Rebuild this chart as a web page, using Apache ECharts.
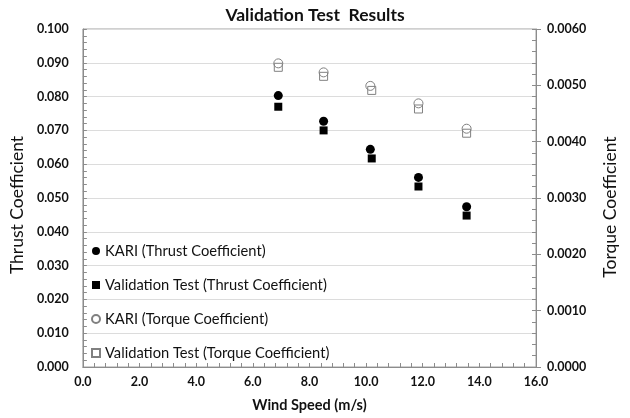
<!DOCTYPE html>
<html>
<head>
<meta charset="utf-8">
<script src="https://cdn.jsdelivr.net/npm/echarts@6/dist/echarts.min.js"></script>
<style>
  html, body { margin: 0; padding: 0; background: #fff; }
  #chart { width: 630px; height: 418px; }
</style>
</head>
<body>
<div id="chart"></div>
<script>
// Wind speeds (m/s) of the test points
const windKari = [6.9, 8.5, 10.15, 11.85, 13.55];
const windTest = [6.9, 8.5, 10.2, 11.85, 13.55];

// Thrust coefficient (left axis)
const thrustKari = [0.0803, 0.0727, 0.0644, 0.0561, 0.0474];
const thrustTest = [0.0770, 0.0700, 0.0617, 0.0534, 0.0448];

// Torque coefficient (right axis)
const torqueKari = [0.00539, 0.00523, 0.00499, 0.00468, 0.00423];
const torqueTest = [0.00532, 0.00516, 0.00491, 0.00458, 0.00415];

const seriesNames = [
  'KARI (Thrust Coefficient)',
  'Validation Test (Thrust Coefficient)',
  'KARI (Torque Coefficient)',
  'Validation Test (Torque Coefficient)'
];

const FONT = 'Lato';
const pair = (xs, ys) => xs.map((x, i) => [x, ys[i]]);

const chart = echarts.init(document.getElementById('chart'), null, { renderer: 'canvas' });

const axisGray = '#8c8c8c';
const tickLabel = { fontFamily: FONT, fontSize: 12.5, fontWeight: 'bold', color: '#111' };

chart.setOption({
  animation: false,
  backgroundColor: '#fff',
  textStyle: { fontFamily: FONT },
  title: {
    text: 'Validation Test  Results',
    left: 'center',
    top: 1,
    textStyle: { fontFamily: FONT, fontSize: 17.5, fontWeight: 'bold', color: '#111' }
  },
  grid: {
    left: 81, right: 94, top: 29, bottom: 49,
    show: true, borderColor: '#a0a0a0', borderWidth: 1
  },
  legend: {
    orient: 'vertical',
    left: 91,
    top: 234,
    padding: 0,
    itemGap: 0,
    itemWidth: 8,
    itemHeight: 8,
    data: seriesNames,
    textStyle: { fontFamily: FONT, fontSize: 14.7, color: '#111', lineHeight: 34 }
  },
  xAxis: {
    type: 'value',
    min: 0, max: 16, interval: 2,
    name: 'Wind Speed (m/s)',
    nameLocation: 'middle',
    nameGap: 31,
    nameTextStyle: { fontFamily: FONT, fontSize: 14.5, fontWeight: 'bold', color: '#111' },
    axisLine: { show: true, lineStyle: { color: axisGray } },
    axisTick: { show: true, inside: true, length: 4, lineStyle: { color: axisGray } },
    minorTick: { show: true, splitNumber: 5, length: 4, lineStyle: { color: axisGray } },
    axisLabel: Object.assign({ formatter: v => v.toFixed(1), margin: 8 }, tickLabel),
    splitLine: { show: false }
  },
  yAxis: [
    {
      type: 'value',
      position: 'left',
      min: 0, max: 0.1, interval: 0.01,
      name: 'Thrust Coefficient',
      nameLocation: 'middle',
      nameGap: 44,
      nameTextStyle: { fontFamily: FONT, fontSize: 17.5, color: '#111', padding: [0, 14, 0, 0] },
      axisLine: { show: true, lineStyle: { color: axisGray } },
      axisTick: { show: true, inside: true, length: 4, lineStyle: { color: axisGray } },
      minorTick: { show: true, splitNumber: 5, length: 4, lineStyle: { color: axisGray } },
      axisLabel: Object.assign({ formatter: v => v.toFixed(3), margin: 14 }, tickLabel),
      splitLine: { show: true, lineStyle: { color: '#dcdcdc', width: 1 } }
    },
    {
      type: 'value',
      position: 'right',
      min: 0, max: 0.006, interval: 0.001,
      name: 'Torque Coefficient',
      nameLocation: 'middle',
      nameGap: 65,
      nameRotate: 90,
      nameTextStyle: { fontFamily: FONT, fontSize: 17.5, color: '#111', padding: [0, 18, 0, 0] },
      axisLine: { show: true, lineStyle: { color: axisGray } },
      axisTick: { show: true, inside: true, length: 4, lineStyle: { color: axisGray } },
      minorTick: { show: true, splitNumber: 5, length: 4, lineStyle: { color: axisGray } },
      axisLabel: Object.assign({ formatter: v => v.toFixed(4), margin: 11 }, tickLabel),
      splitLine: { show: false }
    },
    {
      // outward half of the crossing major ticks on the torque axis
      type: 'value',
      position: 'right',
      min: 0, max: 0.006, interval: 0.001,
      axisLine: { show: false },
      axisTick: { show: true, inside: false, length: 5, lineStyle: { color: axisGray } },
      axisLabel: { show: false },
      splitLine: { show: false }
    }
  ],
  series: [
    {
      name: seriesNames[0], type: 'scatter', yAxisIndex: 0,
      symbol: 'circle', symbolSize: 9,
      itemStyle: { color: '#000', opacity: 1 },
      data: pair(windKari, thrustKari)
    },
    {
      name: seriesNames[1], type: 'scatter', yAxisIndex: 0,
      symbol: 'rect', symbolSize: 8,
      itemStyle: { color: '#000', opacity: 1 },
      data: pair(windTest, thrustTest)
    },
    {
      name: seriesNames[2], type: 'scatter', yAxisIndex: 1,
      symbol: 'circle', symbolSize: 9,
      itemStyle: { color: '#fff', borderColor: '#808080', borderWidth: 1, opacity: 1 },
      data: pair(windKari, torqueKari)
    },
    {
      name: seriesNames[3], type: 'scatter', yAxisIndex: 1,
      symbol: 'rect', symbolSize: 8,
      itemStyle: { color: 'rgba(255,255,255,0)', borderColor: '#808080', borderWidth: 1, opacity: 1 },
      data: pair(windTest, torqueTest)
    }
  ]
});
</script>
</body>
</html>
